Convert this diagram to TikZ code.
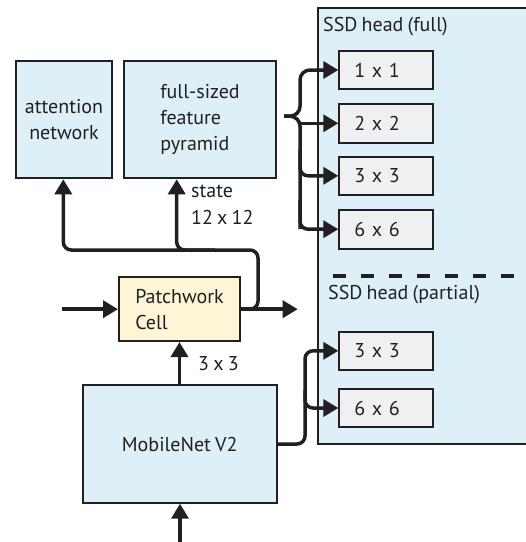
\documentclass[tikz,border=0pt]{standalone}
\usepackage{fontspec}
\setmainfont{PT Sans}
\usetikzlibrary{arrows.meta}
\definecolor{ink}{HTML}{231F20}
\definecolor{lblue}{HTML}{DDF0F8}
\definecolor{lyellow}{HTML}{FDF5D6}
\definecolor{lgray}{HTML}{EFF0F2}
\newcommand{\myfont}[1]{\fontsize{20}{#1}\selectfont\spaceskip=0.21em plus 0.1em minus 0.05em\relax}
\tikzset{
  box/.style={draw=ink, line width=2pt, fill=lblue, inner sep=0pt, text=ink, font=\myfont{25.7}},
  gbox/.style={draw=ink, line width=2pt, fill=lgray, minimum width=93.4pt, minimum height=38.6pt, text width=63.4pt, inner xsep=15pt, inner ysep=0pt, align=left, text=ink, font=\myfont{24}},
  conn/.style={draw=ink, line width=3.5pt, -{Triangle[length=15pt,width=17pt]}, rounded corners=8pt},
  line/.style={draw=ink, line width=3.5pt, rounded corners=8pt},
  lab/.style={text=ink, font=\myfont{27}, inner sep=0pt, align=left},
}
\begin{document}
\begin{tikzpicture}[x=1pt,y=-1pt]
\useasboundingbox (0,0) rectangle (526,542);
\clip (0,0) rectangle (526,542);
% SSD head container
\node[box, anchor=north west, minimum width=214pt, minimum height=436.6pt] (ssd) at (317.3,6.7) {};
\node[lab, anchor=west] (ssdfull) at (323,27) {SSD head (full)};
\draw[ink, line width=3.5pt, dash pattern=on 13pt off 15pt] (333,276) coordinate (d0) -- (530,276) coordinate (d1);
\node[lab, anchor=west] (ssdpart) at (328,295) {SSD head (partial)};
% full head boxes
\node[gbox] (g1) at (386,70) {1 x 1};
\node[gbox] (g2) at (386,123.3) {2 x 2};
\node[gbox] (g3) at (386,175.8) {3 x 3};
\node[gbox] (g4) at (386,229.2) {6 x 6};
% partial head boxes
\node[gbox] (p3) at (386,350.8) {3 x 3};
\node[gbox] (p6) at (386,408) {6 x 6};
% left boxes
\node[box, minimum width=96.6pt, minimum height=117.6pt, align=center] (att) at (64,119.5) {attention\\network};
\node[box, minimum width=152pt, minimum height=117.6pt, align=left] (fp) at (200,119.5) {full-sized\\feature\\pyramid};
\node[box, fill=lyellow, minimum width=121pt, minimum height=63.7pt, align=left] (pc) at (179.5,309.2) {Patchwork\\Cell};
\node[box, minimum width=194pt, minimum height=117.4pt] (mn) at (179.7,444) {MobileNet V2};
% brace to full head
\coordinate (b) at (284,116.2);
\draw[conn, rounded corners=10pt] (b) -- (300,116.2) -- (300,70) -- (g1.west);
\draw[line, rounded corners=10pt] (b) -- (300,116.2) -- (300,229.2);
\draw[conn] (300,123.3) -- (g2.west);
\draw[conn] (300,150) -- (300,175.8) -- (g3.west);
\draw[conn] (300,200) -- (300,229.2) -- (g4.west);
% patchwork connections
\coordinate (pin) at (61.7,309.2);
\coordinate (pout) at (297.7,309.2);
\draw[conn] (pin) -- (pc.west);
\draw[conn] (pc.east) -- (pout);
\coordinate (ax) at (63.3,250);
\draw[conn] (pc.east) -- (258,309.2) -- (258,250) -- (ax) -- (att.south -| ax);
\coordinate (st) at (176.7,250);
\draw[conn] (215,250) -- (st) -- (fp.south -| st);
\node[lab, anchor=north west] (stlab) at (191,185) {state\\12 x 12};
% mobilenet connections
\draw[conn] (mn.north -| pc.south) -- (pc.south);
\node[lab, anchor=west] (l33) at (198,364) {3 x 3};
\coordinate (min) at (180,545);
\draw[conn] (min) -- (mn.south -| min);
\draw[conn] (mn.east) -- (305,444) -- (305,350.8) -- (p3.west);
\draw[conn] (305,390) -- (305,408) -- (p6.west);
\end{tikzpicture}
\end{document}
